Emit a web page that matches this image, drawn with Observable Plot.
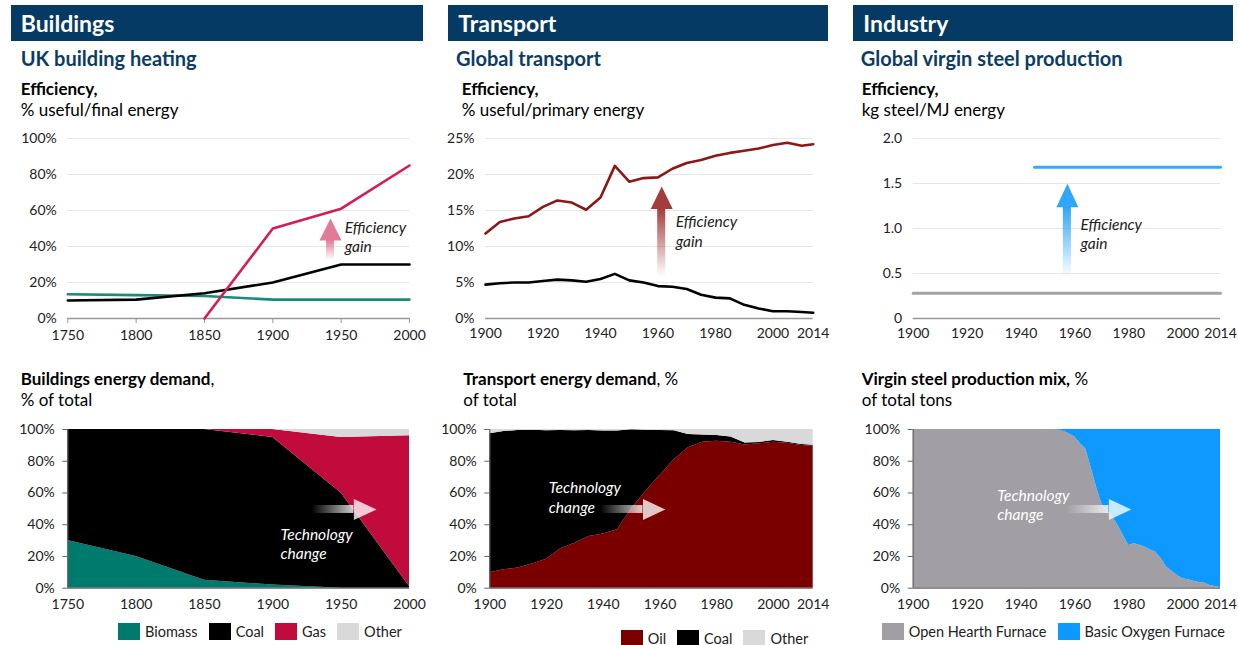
<!DOCTYPE html>
<html><head><meta charset="utf-8">
<script src="https://cdn.jsdelivr.net/npm/d3@7"></script>
<script src="https://cdn.jsdelivr.net/npm/@observablehq/plot@0.6"></script>
<style>
body{margin:0;background:#fff;font-family:Lato,sans-serif;width:1238px;height:645px;position:relative;overflow:hidden}
.hdr{position:absolute;top:5px;height:36px;background:#043a63;color:#fff;font-weight:700;font-size:23px;line-height:36px;box-sizing:border-box;padding-left:10px}
.sub{position:absolute;top:46.5px;color:#0c3c66;font-weight:700;font-size:20px;line-height:22px;white-space:nowrap}
.ttl{position:absolute;font-size:17px;color:#000;line-height:21px;white-space:nowrap}
.ttl b{font-weight:700}
.leg{position:absolute;display:flex;align-items:center;font-size:14.5px;color:#222;gap:11px;white-space:nowrap}
.leg span.it{display:flex;align-items:center}
.sw{display:inline-block;width:22px;height:17px;margin-right:5px}
svg{position:absolute}
</style></head><body>
<script>
// ---------- Buildings ----------
const bEffYears = [1750, 1800, 1850, 1900, 1950, 2000];
const bEffBiomass = [13.5, 13, 12.5, 10.5, 10.5, 10.5];
const bEffCoal = [10, 10.5, 14, 20, 30, 30];
const bGasYears = [1850, 1900, 1950, 2000];
const bEffGas = [0, 50, 61, 85];
const bSources = ["Biomass", "Coal", "Gas", "Other"];
const bMixYears = [1750, 1800, 1850, 1900, 1950, 2000];
const bMixBiomass = [30, 20, 5, 2, 0, 0];
const bMixCoal = [70, 80, 95, 93, 60, 1];
const bMixGas = [0, 0, 0, 5, 35, 95];
const bMixOther = [0, 0, 0, 0, 5, 4];

// ---------- Transport ----------
const tYears = [1900,1905,1910,1915,1920,1925,1930,1935,1940,1945,1950,1955,1960,1965,1970,1975,1980,1985,1990,1995,2000,2005,2010,2014];
const tEffOil = [11.8,13.4,13.9,14.2,15.5,16.4,16.1,15.1,16.8,21.2,19.0,19.5,19.6,20.8,21.6,22.0,22.6,23.0,23.3,23.6,24.1,24.4,24.0,24.2];
const tEffCoal = [4.7,4.9,5.0,5.0,5.2,5.4,5.3,5.1,5.5,6.2,5.3,5.0,4.5,4.4,4.1,3.3,2.9,2.8,1.9,1.4,1.0,1.0,0.9,0.8];
const tSources = ["Oil", "Coal", "Other"];
const tMixOil = [9.7,11.6,12.8,15.3,18.3,24.8,28.4,32.6,34.2,36.8,50,61,71,81,88.5,92,92.6,92,90.3,91,92,91.4,89.9,89.5];
const tMixCoal = [87.6,87.1,86.6,84.3,80.9,74.6,70.8,66.8,64.8,62.2,49.8,38.6,28.4,18.2,8.3,4.6,3.6,3.2,1.2,0.8,1.0,0.6,0.6,0.5];
const tMixOther = [2.7,1.3,0.6,0.4,0.8,0.6,0.8,0.6,1.0,1.0,0.2,0.4,0.6,0.8,3.2,3.4,3.8,4.8,8.5,8.2,7.0,8.0,9.5,10.0];

// ---------- Industry ----------
const sEffOhfYears = [1900, 2014];
const sEffOhf = [0.28, 0.28];
const sEffBofYears = [1945, 2014];
const sEffBof = [1.68, 1.68];
const sSources = ["Open Hearth Furnace", "Basic Oxygen Furnace"];
const sMixYears = [1900,1920,1940,1952,1955,1957,1960,1962,1964,1966,1968,1970,1972,1974,1976,1978,1980,1982,1984,1986,1988,1990,1992,1994,1996,1998,2000,2002,2004,2006,2008,2010,2012,2014];
const sMixOhf = [100,100,100,100,99.4,97.9,95.2,91,87.8,76,63.7,53,49,44.7,39.5,33,26.9,28,27,25.8,24,22.7,18.5,13.2,10.7,8,5.9,5.3,4.4,3.6,3.2,1.7,1.0,0.4];
const sMixBof = [0,0,0,0,0.6,2.1,4.8,9,12.2,24,36.3,47,51,55.3,60.5,67,73.1,72,73,74.2,76,77.3,81.5,86.8,89.3,92,94.1,94.7,95.6,96.4,96.8,98.3,99,99.6];

// ---------- tick labels ----------
const bXTicks = [1750, 1800, 1850, 1900, 1950, 2000];
const tXTicks = [1900, 1920, 1940, 1960, 1980, 2000, 2014];
const pctTicks = [0, 20, 40, 60, 80, 100];
const tEffTicks = [0, 5, 10, 15, 20, 25];
const sEffTicks = [0, 0.5, 1, 1.5, 2];

// ---------- colours ----------
const cBiomass = "#007a6c", cBiomassLine = "#1a8a7c", cCoal = "#000000", cGas = "#c20b3d", cGasLine = "#d51c55", cOther = "#d9d9d9";
const cOil = "#7a0000", cOilLine = "#8c1717";
const cOhf = "#a19fa3", cBof = "#0d99ff", cBofLine = "#35aaf5", cOhfLine = "#a3a3a3";

const FONT = "Lato, sans-serif";
const body = document.body;

function el(html, cls, style) {
  const d = document.createElement("div");
  d.className = cls; d.innerHTML = html; Object.assign(d.style, style); body.appendChild(d); return d;
}
function put(svg, left, top) { svg.style.left = left + "px"; svg.style.top = top + "px"; body.appendChild(svg); }
function long(years, names, arrays) {
  const out = [];
  years.forEach((yr, i) => names.forEach((n, j) => out.push({year: yr, source: n, v: arrays[j][i]})));
  return out;
}
function series(years, vals) { return years.map((yr, i) => ({year: yr, v: vals[i]})); }
function addGrad(svg, id, color, o0, o1, vertical) {
  const defs = d3.select(svg).insert("defs", ":first-child");
  const g = defs.append("linearGradient").attr("id", id)
    .attr("x1", 0).attr("y1", vertical ? 1 : 0).attr("x2", vertical ? 0 : 1).attr("y2", 0);
  g.append("stop").attr("offset", 0).attr("stop-color", color).attr("stop-opacity", o0);
  g.append("stop").attr("offset", 1).attr("stop-color", color).attr("stop-opacity", o1);
}

const styleBase = {fontFamily: FONT, fontSize: "14px", color: "#222", background: "transparent", overflow: "visible"};

function topPlot({width, ml, mr, xDomain, xTicks, yDomain, yTicks, yFmt, xTickSize, xTickPad, marks}) {
  return Plot.plot({
    width, height: 225, marginLeft: ml, marginRight: mr, marginTop: 18, marginBottom: 27,
    style: styleBase,
    x: {domain: xDomain}, y: {domain: yDomain},
    marks: [
      Plot.gridY({ticks: yTicks, stroke: "#e6e6e6", strokeOpacity: 1}),
      Plot.axisY({ticks: yTicks, tickSize: 0, tickPadding: 11, tickFormat: yFmt, label: null}),
      Plot.axisX({ticks: xTicks, tickSize: xTickSize, tickPadding: xTickPad, tickFormat: d => String(d), label: null, stroke: "#999"}),
      Plot.ruleY([yDomain[0]], {stroke: "#999", strokeWidth: 1.5}),
      ...marks
    ]
  });
}
function botPlot({width, ml, mr, xDomain, xTicks, data, names, colors, marks}) {
  return Plot.plot({
    width, height: 200, marginLeft: ml, marginRight: mr, marginTop: 14, marginBottom: 27.3,
    style: styleBase,
    x: {domain: xDomain}, y: {domain: [0, 100]},
    color: {domain: names, range: colors},
    marks: [
      Plot.areaY(data, {x: "year", y: "v", fill: "source", order: names}),
      Plot.axisY({ticks: pctTicks, tickSize: 5, tickPadding: 8, tickFormat: d => d + "%", label: null, stroke: "#666"}),
      Plot.axisX({ticks: xTicks, tickSize: 0, tickPadding: 10.6, tickFormat: d => String(d), label: null}),
      Plot.ruleY([0], {stroke: "#666", strokeWidth: 1.2}),
      Plot.ruleX([xDomain[0]], {stroke: "#666", strokeWidth: 1.2}),
      ...marks
    ]
  });
}
function vArrow(a, grad, color) {
  return [
    Plot.rect([a], {x1: "xa", x2: "xb", y1: "y0", y2: "y1", fill: `url(#${grad})`}),
    Plot.vector([a], {x: "x", y: "y1", length: a.len, r: 11, rotate: 0, anchor: "start", shape: "spike", fill: color, stroke: "none"})
  ];
}
function hArrow(a, grad) {
  return [
    Plot.rect([a], {x1: "x0", x2: "x1", y1: "ya", y2: "yb", fill: `url(#${grad})`}),
    Plot.vector([a], {x: "x1", y: "y", length: a.len, r: 10.5, rotate: 90, anchor: "start", shape: "spike", fill: "#fff", fillOpacity: 0.78, stroke: "none"})
  ];
}
function note(p, txt, color) {
  return Plot.text([p], {x: "x", y: "y", text: () => txt, textAnchor: "start", lineAnchor: "middle", lineHeight: 1.25,
    fontStyle: "italic", fontSize: 15.5, fill: color});
}

// ---------- headers & titles ----------
el("Buildings", "hdr", {left: "11px", width: "412px", paddingLeft: "9.7px"});
el("Transport", "hdr", {left: "448.3px", width: "380px"});
el("Industry", "hdr", {left: "853.3px", width: "380px"});
el("UK building heating", "sub", {left: "20.7px"});
el("Global transport", "sub", {left: "456px"});
el("Global virgin steel production", "sub", {left: "860.7px"});
el("<b>Efficiency,</b><br>% useful/final energy", "ttl", {left: "20.7px", top: "77.5px"});
el("<b>Efficiency,</b><br>% useful/primary energy", "ttl", {left: "461.7px", top: "77.5px"});
el("<b>Efficiency,</b><br>kg steel/MJ energy", "ttl", {left: "861.7px", top: "77.5px"});
el("<b>Buildings energy demand</b>,<br>% of total", "ttl", {left: "20.7px", top: "368px"});
el("<b>Transport energy demand</b>, %<br>of total", "ttl", {left: "463.3px", top: "368px"});
el("<b>Virgin steel production mix,</b> %<br>of total tons", "ttl", {left: "861.7px", top: "368px"});

// ---------- Buildings efficiency ----------
const bUp = {x: 1942.2, xa: 1939.3, xb: 1945.1, y0: 32.3, y1: 43.4, len: 22};
const p1 = topPlot({width: 425, ml: 67.3, mr: 16, xDomain: [1750, 2000], xTicks: bXTicks, yDomain: [0, 100], yTicks: pctTicks,
  yFmt: d => d + "%", xTickSize: 5, xTickPad: 7,
  marks: [
    Plot.line(series(bEffYears, bEffBiomass), {x: "year", y: "v", stroke: cBiomassLine, strokeWidth: 2.6}),
    Plot.line(series(bEffYears, bEffCoal), {x: "year", y: "v", stroke: cCoal, strokeWidth: 2.6}),
    Plot.line(series(bGasYears, bEffGas), {x: "year", y: "v", stroke: cGasLine, strokeWidth: 2.6}),
    ...vArrow(bUp, "gb1", "#e27a98"),
    note({x: 1952.7, y: 45.8}, "Efficiency\ngain", "#222")
  ]});
addGrad(p1, "gb1", "#e27a98", 0, 1, true);
put(p1, 0, 120);

// ---------- Transport efficiency ----------
const tUp = {x: 1961.3, xa: 1959.9, xb: 1962.7, y0: 5.8, y1: 15.2, len: 22.6};
const p2 = topPlot({width: 410, ml: 60, mr: 22.3, xDomain: [1900, 2014], xTicks: tXTicks, yDomain: [0, 25], yTicks: tEffTicks,
  yFmt: d => d + "%", xTickSize: 0, xTickPad: 10,
  marks: [
    Plot.line(series(tYears, tEffCoal), {x: "year", y: "v", stroke: cCoal, strokeWidth: 2.6}),
    Plot.line(series(tYears, tEffOil), {x: "year", y: "v", stroke: cOilLine, strokeWidth: 2.6}),
    ...vArrow(tUp, "gt1", "#a43c3c"),
    note({x: 1966.2, y: 12.2}, "Efficiency\ngain", "#222")
  ]});
addGrad(p2, "gt1", "#a43c3c", 0, 1, true);
put(p2, 425, 120);

// ---------- Industry efficiency ----------
const sUp = {x: 1957.2, xa: 1955.7, xb: 1958.7, y0: 0.46, y1: 1.236, len: 23.4};
const p3 = topPlot({width: 403, ml: 77.7, mr: 18, xDomain: [1900, 2014], xTicks: tXTicks, yDomain: [0, 2], yTicks: sEffTicks,
  yFmt: d => d === 0 ? "0" : d.toFixed(1), xTickSize: 0, xTickPad: 10,
  marks: [
    Plot.line(series(sEffOhfYears, sEffOhf), {x: "year", y: "v", stroke: cOhfLine, strokeWidth: 3}),
    Plot.line(series(sEffBofYears, sEffBof), {x: "year", y: "v", stroke: cBofLine, strokeWidth: 3}),
    ...vArrow(sUp, "gs1", "#2fa6f8"),
    note({x: 1962.1, y: 0.948}, "Efficiency\ngain", "#222")
  ]});
addGrad(p3, "gs1", "#2fa6f8", 0, 1, true);
put(p3, 835, 120);

// ---------- Buildings mix ----------
const bRight = {x0: 1928.8, x1: 1959.3, ya: 47.1, yb: 52.1, y: 49.6, len: 22.7};
const q1 = botPlot({width: 425, ml: 67.3, mr: 16, xDomain: [1750, 2000], xTicks: bXTicks,
  data: long(bMixYears, bSources, [bMixBiomass, bMixCoal, bMixGas, bMixOther]), names: bSources,
  colors: [cBiomass, cCoal, cGas, cOther],
  marks: [...hArrow(bRight, "gb2"), note({x: 1905.6, y: 28.2}, "Technology\nchange", "#fff")]});
addGrad(q1, "gb2", "#ffffff", 0, 0.8, false);
put(q1, 0, 415);

// ---------- Transport mix ----------
const tRight = {x0: 1939, x1: 1954, ya: 47.1, yb: 52.1, y: 49.6, len: 22.3};
const q2 = botPlot({width: 410, ml: 64.3, mr: 22.3, xDomain: [1900, 2014], xTicks: tXTicks,
  data: long(tYears, tSources, [tMixOil, tMixCoal, tMixOther]), names: tSources,
  colors: [cOil, cCoal, cOther],
  marks: [...hArrow(tRight, "gt2"), note({x: 1920.8, y: 57.7}, "Technology\nchange", "#fff")]});
addGrad(q2, "gt2", "#ffffff", 0, 0.8, false);
put(q2, 425, 415);

// ---------- Steel mix ----------
const sRight = {x0: 1957.1, x1: 1972.6, ya: 47.1, yb: 52.1, y: 49.6, len: 22.4};
const q3 = botPlot({width: 403, ml: 77.7, mr: 18, xDomain: [1900, 2014], xTicks: tXTicks,
  data: long(sMixYears, sSources, [sMixOhf, sMixBof]), names: sSources,
  colors: [cOhf, cBof],
  marks: [...hArrow(sRight, "gs2"), note({x: 1931.2, y: 52.9}, "Technology\nchange", "#fff")]});
addGrad(q3, "gs2", "#ffffff", 0, 0.8, false);
put(q3, 835, 415);

// ---------- legends ----------
function legend(names, colors, left, cy) {
  const html = names.map((n, i) => `<span class="it"><span class="sw" style="background:${colors[i]}"></span>${n}</span>`).join("");
  el(html, "leg", {left: left + "px", top: (cy - 10) + "px", height: "20px"});
}
legend(bSources, [cBiomass, cCoal, cGas, cOther], 118, 631.5);
legend(tSources, [cOil, cCoal, cOther], 620.7, 638);
legend(sSources, [cOhf, cBof], 881.7, 631.5);
</script>
</body></html>
